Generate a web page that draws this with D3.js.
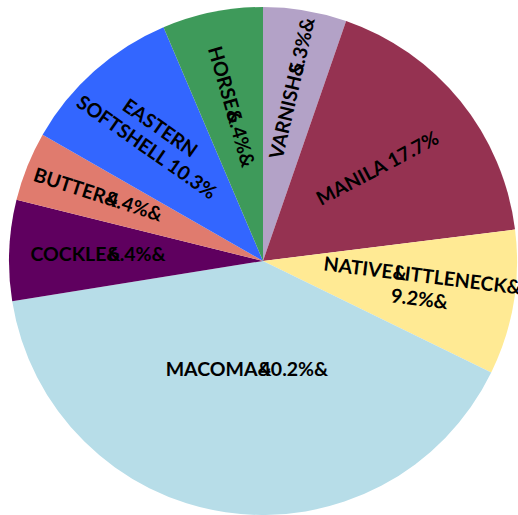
<!DOCTYPE html>
<html>
<head>
<meta charset="utf-8">
<script src="https://cdn.jsdelivr.net/npm/d3@7"></script>
<style>
  body { margin: 0; background: #fff; }
  text { font-family: Lato, "Open Sans", sans-serif; font-weight: bold; fill: #000; }
</style>
</head>
<body>
<svg width="518" height="515"></svg>
<script>
// clam species share, clockwise from 12 o'clock
const species = ["VARNISH", "MANILA", "NATIVE LITTLENECK", "MACOMA", "COCKLE", "BUTTER", "EASTERN SOFTSHELL", "HORSE"];
const percents = [5.3, 17.7, 9.2, 40.2, 6.4, 4.4, 10.3, 6.4];
const colors = ["#b3a2c7", "#953251", "#ffea94", "#b7dde8", "#5f005f", "#e07b6e", "#3366ff", "#3e9a5a"];

// label layout (style only)
const labelDist = [0.69, 0.58, 0.63, 0.43, 0.65, 0.70, 0.65, 0.62];
const labelRot = [-77, -28, 7, 0, 0, 18, 35, 74];

const svg = d3.select("svg");
const cx = 263, cy = 261, r = 254;

const pie = d3.pie().sort(null).value(d => d);
const arcs = pie(percents);
const arc = d3.arc().innerRadius(0).outerRadius(r);

const g = svg.append("g").attr("transform", `translate(${cx},${cy})`);

g.selectAll("path")
  .data(arcs)
  .enter()
  .append("path")
  .attr("d", arc)
  .attr("fill", (d, i) => colors[i]);

// label text as it shows in the picture: the "&" stands where a space was
// and the next glyph is drawn on top of it
const lines = [
  [["VARNISH", "&", "5.3%&"]],
  [["MANILA 17.7%"]],
  [["NATIVE", "&", "LITTLENECK&"], ["9.2%&"]],
  [["MACOMA", "&", "40.2%&"]],
  [["COCKLE", "&", "6.4%&"]],
  [["BUTTER", "&", "4.4%&"]],
  [["EASTERN"], ["SOFTSHELL 10.3%"]],
  [["HORSE", "&", "6.4%&"]]
];

arcs.forEach(function (d, i) {
  const a = (d.startAngle + d.endAngle) / 2;
  const lr = r * labelDist[i];
  const x = Math.sin(a) * lr, y = -Math.cos(a) * lr;
  const t = g.append("text")
    .attr("transform", `translate(${x},${y}) rotate(${labelRot[i]})`)
    .attr("text-anchor", "middle")
    .style("font-size", "19.5px");
  const ls = lines[i];
  ls.forEach(function (parts, k) {
    const dy = k === 0 ? (0.35 - (ls.length - 1) * 0.6) + "em" : "1.2em";
    t.append("tspan").attr("x", 0).attr("dy", dy).text(parts[0]);
    for (let j = 1; j < parts.length; j++) {
      const ts = t.append("tspan").text(parts[j]);
      if (parts[j - 1] === "&") ts.attr("dx", "-0.62em");
    }
  });
});
</script>
</body>
</html>
